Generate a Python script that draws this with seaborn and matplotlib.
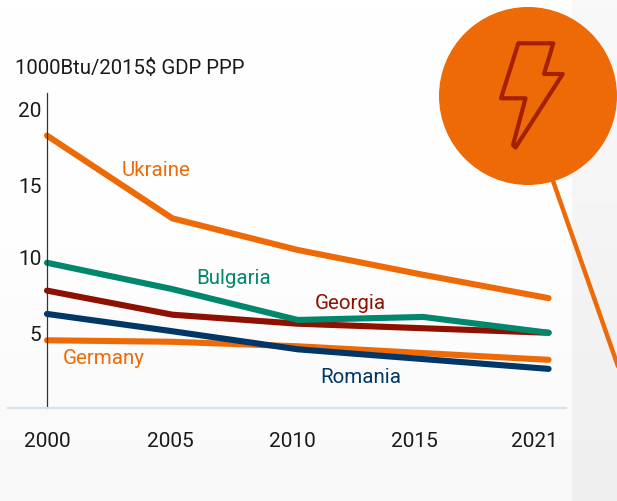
import numpy as np
import pandas as pd
import matplotlib
matplotlib.use("Agg")
import matplotlib.pyplot as plt
from matplotlib.colors import LinearSegmentedColormap
from matplotlib.patches import Circle, Polygon
import seaborn as sns

years = ["2000", "2005", "2010", "2015", "2021"]
ukraine = [18.1, 12.6, 10.5, 8.85, 7.3]
germany = [4.5, 4.4, 4.1, 3.65, 3.2]
georgia = [7.8, 6.2, 5.6, 5.3, 5.0]
romania = [6.25, 5.1, 3.9, 3.25, 2.6]
bulgaria = [9.65, 7.9, 5.85, 6.05, 5.0]

series_names = ["Ukraine", "Germany", "Georgia", "Romania", "Bulgaria"]
series_values = [ukraine, germany, georgia, romania, bulgaria]
series_colors = ["#EE6A07", "#EE6A07", "#8E1000", "#003767", "#00876C"]

ytick_labels = ["20", "15", "10", "5"]
ytick_pos = [19.85, 14.8, 10.0, 4.95]
xtick_pos = [0.0, 0.98, 1.955, 2.93, 3.89]
label_pos = {"Ukraine": (0.87, 15.75), "Bulgaria": (1.49, 8.62), "Georgia": (2.42, 6.92),
             "Romania": (2.50, 2.0), "Germany": (0.45, 3.27)}

W, H = 617, 501
sns.set_theme(style="white")
plt.rcParams["font.family"] = ["Roboto", "DejaVu Sans"]
fig = plt.figure(figsize=(W / 100, H / 100), dpi=100)

# background layer in pixel coordinates
bg = fig.add_axes([0, 0, 1, 1], zorder=0)
bg.set_xlim(0, W); bg.set_ylim(H, 0); bg.axis("off")
left_cm = LinearSegmentedColormap.from_list("l", ["#ffffff", "#fefefe", "#faf9f9"])
right_cm = LinearSegmentedColormap.from_list("r", ["#f9f9f9", "#f4f4f4", "#efefef"])
grad = np.linspace(0, 1, 64).reshape(-1, 1)
bg.imshow(grad, cmap=left_cm, extent=(0, 572, H, 0), aspect="auto", vmin=0, vmax=1)
bg.imshow(grad, cmap=right_cm, extent=(572, W, H, 0), aspect="auto", vmin=0, vmax=1)
bg.set_xlim(0, W); bg.set_ylim(H, 0)
bg.plot([552, 620], [178, 372], color="#EE6A07", lw=3.2, zorder=2)
bg.add_patch(Circle((528, 96), 89, fc="#EE6A07", ec="none", zorder=3))
bolt = [(518.3, 43.3), (553.3, 43.3), (544, 74), (562.7, 74), (515.5, 147.5),
        (513, 145), (525.5, 98.3), (501, 98.3)]
bg.add_patch(Polygon(bolt, closed=True, fc="none", ec="#A32000", lw=3.0, joinstyle="round", zorder=4))

# chart layer
ax = fig.add_axes([8 / W, 1 - 408 / H, 558 / W, 315 / H], zorder=1)
ax.patch.set_alpha(0)
df = pd.DataFrame({
    "year": years * len(series_names),
    "value": [v for s in series_values for v in s],
    "country": [n for n in series_names for _ in years],
})
sns.lineplot(data=df, x="year", y="value", hue="country", hue_order=series_names,
             palette=dict(zip(series_names, series_colors)), estimator=None, sort=False,
             legend=False, linewidth=4.4, solid_capstyle="round", solid_joinstyle="round", ax=ax)
ax.set_xlim(-0.311, 4.139)
ax.set_ylim(0, 20.93)
ax.set_xlabel(""); ax.set_ylabel("")
ax.set_xticks(xtick_pos, years)
ax.set_yticks(ytick_pos, ytick_labels)
ax.tick_params(axis="both", length=0, labelsize=15, labelcolor="#1a1a1a")
ax.tick_params(axis="x", pad=17.5)
ax.tick_params(axis="y", pad=4)
ax.grid(False)
for s in ("top", "right"):
    ax.spines[s].set_visible(False)
ax.spines["left"].set_position(("data", 0))
ax.spines["left"].set_color("#333333")
ax.spines["left"].set_linewidth(0.9)
ax.spines["bottom"].set_color("#D5E0F0")
ax.spines["bottom"].set_linewidth(1.5)

for name, color in zip(series_names, series_colors):
    x, y = label_pos[name]
    ax.text(x, y, name, color=color, fontsize=14.8, ha="center", va="center",
            family=["Roboto"])

fig.text(15 / W, 1 - 69 / H, "1000Btu/2015$ GDP PPP", fontsize=14.7, color="#1a1a1a",
         ha="left", va="center")

fig.savefig("out.png", dpi=100)
